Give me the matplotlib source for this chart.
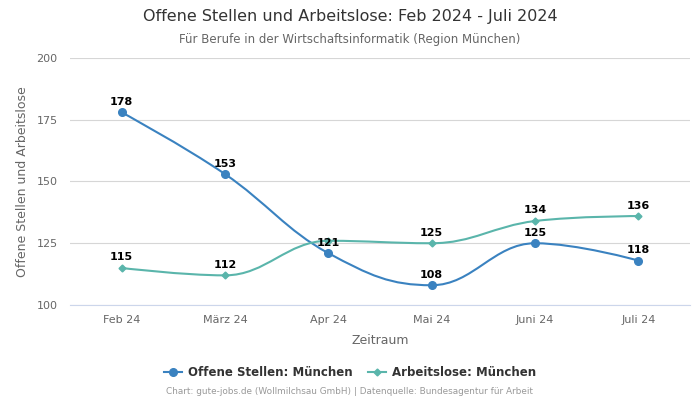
import numpy as np
import matplotlib.pyplot as plt
from matplotlib.path import Path
from matplotlib.patches import PathPatch

# Daten
monate = ["Feb 24", "März 24", "Apr 24", "Mai 24", "Juni 24", "Juli 24"]
offene_stellen = [178, 153, 121, 108, 125, 118]
arbeitslose = [115, 112, 126, 125, 134, 136]
# Beschriftungen, die im Original verdeckt sind
arbeitslose_ohne_label = [2]

farbe_stellen = "#3a82c0"
farbe_arbeitslose = "#5ab5ab"


def spline_pfad(xs, ys, glaettung=1.5):
    """Kurvenpfad wie Highcharts-Spline (kubische Bezier)."""
    n = len(xs)
    links = [None] * n
    rechts = [None] * n
    for i in range(1, n - 1):
        lx = (glaettung * xs[i] + xs[i - 1]) / (glaettung + 1)
        ly = (glaettung * ys[i] + ys[i - 1]) / (glaettung + 1)
        rx = (glaettung * xs[i] + xs[i + 1]) / (glaettung + 1)
        ry = (glaettung * ys[i] + ys[i + 1]) / (glaettung + 1)
        if rx != lx:
            korr = (ry - ly) * (rx - xs[i]) / (rx - lx) + ys[i] - ry
            ly += korr
            ry += korr
        # Überschwingen vermeiden
        if ly > max(ys[i - 1], ys[i]):
            ly = max(ys[i - 1], ys[i]); ry = 2 * ys[i] - ly
        elif ly < min(ys[i - 1], ys[i]):
            ly = min(ys[i - 1], ys[i]); ry = 2 * ys[i] - ly
        if ry > max(ys[i + 1], ys[i]):
            ry = max(ys[i + 1], ys[i]); ly = 2 * ys[i] - ry
        elif ry < min(ys[i + 1], ys[i]):
            ry = min(ys[i + 1], ys[i]); ly = 2 * ys[i] - ry
        links[i] = (lx, ly)
        rechts[i] = (rx, ry)
    verts = [(xs[0], ys[0])]
    codes = [Path.MOVETO]
    for i in range(n - 1):
        p1 = rechts[i] if rechts[i] else (xs[i], ys[i])
        p2 = links[i + 1] if links[i + 1] else (xs[i + 1], ys[i + 1])
        verts += [p1, p2, (xs[i + 1], ys[i + 1])]
        codes += [Path.CURVE4] * 3
    return Path(verts, codes)


fig = plt.figure(figsize=(7, 4), dpi=100)
ax = fig.add_axes([0.1, 0.2375, 0.8857, 0.6175])

x = np.arange(len(monate))

for werte, farbe, marker, ms, name in [
    (offene_stellen, farbe_stellen, "o", 5.5, "Offene Stellen: München"),
    (arbeitslose, farbe_arbeitslose, "D", 3.5, "Arbeitslose: München"),
]:
    pfad = spline_pfad(list(x.astype(float)), [float(v) for v in werte])
    ax.add_patch(PathPatch(pfad, facecolor="none", edgecolor=farbe, lw=1.5, zorder=3))
    ax.plot(x, werte, linestyle="-", color=farbe, marker=marker, markersize=ms,
            lw=1.5, label=name, zorder=4, alpha=0)
    ax.plot(x, werte, linestyle="none", color=farbe, marker=marker, markersize=ms, zorder=4)

# Datenbeschriftungen
for i, v in enumerate(offene_stellen):
    ax.annotate(str(v), (x[i], v), xytext=(0, 4), textcoords="offset points",
                ha="center", va="bottom", fontsize=8, fontweight="bold", color="black", zorder=5)
for i, v in enumerate(arbeitslose):
    if i in arbeitslose_ohne_label:
        continue
    ax.annotate(str(v), (x[i], v), xytext=(0, 4), textcoords="offset points",
                ha="center", va="bottom", fontsize=8, fontweight="bold", color="black", zorder=5)

ax.set_xlim(-0.5, len(monate) - 0.5)
ax.set_ylim(100, 200)
ax.set_yticks([100, 125, 150, 175, 200])
ax.set_xticks(x)
ax.set_xticklabels(monate)
ax.grid(axis="y", color="#d6d6d6", lw=0.8)
ax.set_axisbelow(True)
for s in ["top", "right", "left"]:
    ax.spines[s].set_visible(False)
ax.spines["bottom"].set_color("#ccd6eb")
ax.tick_params(axis="y", length=0, labelsize=8, colors="#666666", pad=9)
ax.tick_params(axis="x", length=0, labelsize=8, colors="#666666", pad=7)

ax.set_xlabel("Zeitraum", fontsize=9, color="#666666", labelpad=7)
ax.set_ylabel("Offene Stellen und Arbeitslose", fontsize=9, color="#666666", labelpad=5)

fig.text(0.5, 0.958, "Offene Stellen und Arbeitslose: Feb 2024 - Juli 2024",
         ha="center", va="center", fontsize=11.5, color="#333333")
fig.text(0.5, 0.902, "Für Berufe in der Wirtschaftsinformatik (Region München)",
         ha="center", va="center", fontsize=8.5, color="#666666")

leg = fig.legend(loc="center", bbox_to_anchor=(0.5, 0.068), ncol=2, frameon=False,
                 prop={"size": 8.5, "weight": "bold"}, handlelength=1.5, columnspacing=1.3,
                 handletextpad=0.5)
for h in leg.legend_handles:
    h.set_alpha(1)
for t in leg.get_texts():
    t.set_color("#333333")

fig.text(0.5, 0.02, "Chart: gute-jobs.de (Wollmilchsau GmbH) | Datenquelle: Bundesagentur für Arbeit",
         ha="center", va="center", fontsize=6.4, color="#999999")

fig.savefig("out.png", dpi=100)
